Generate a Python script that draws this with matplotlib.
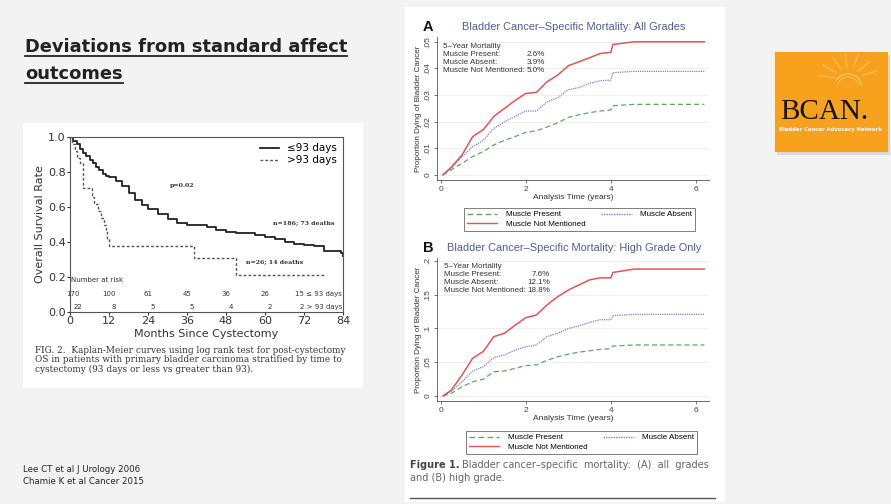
import numpy as np
import matplotlib
matplotlib.use("Agg")
from matplotlib import pyplot as plt
from matplotlib.patches import Rectangle, Arc
from matplotlib.lines import Line2D

W, H = 891, 504

# --- Lee 2006: Kaplan-Meier, overall survival (months) ---
km_early_t = [0, 1, 2, 3, 4, 5, 6, 7, 8, 9, 10, 11, 12, 14, 16, 18, 20, 22, 24, 27, 30, 33, 36,
              39, 42, 45, 48, 51, 54, 57, 60, 63, 66, 69, 72, 75, 78, 81, 83.5, 84]
km_early_s = [1.0, 0.98, 0.96, 0.93, 0.91, 0.89, 0.87, 0.85, 0.83, 0.81, 0.79, 0.78, 0.77, 0.75, 0.72,
              0.68, 0.64, 0.61, 0.59, 0.56, 0.53, 0.51, 0.50, 0.50, 0.485, 0.47, 0.46, 0.45, 0.45,
              0.44, 0.43, 0.42, 0.40, 0.39, 0.385, 0.38, 0.35, 0.35, 0.34, 0.32]
km_late_t = [0, 0.5, 1.5, 2, 3, 4, 6, 6.8, 7.5, 8.5, 9.5, 10.5, 11, 11.5, 12, 38, 51, 78.5]
km_late_s = [1.0, 0.96, 0.92, 0.88, 0.85, 0.71, 0.71, 0.66, 0.62, 0.58, 0.54, 0.50, 0.46, 0.42, 0.38,
             0.31, 0.21, 0.21]
risk_months = [1, 12, 24, 36, 48, 60]
risk_early = [170, 100, 61, 45, 36, 26]
risk_late = [22, 8, 5, 5, 4, 2]
risk_last = ["15 \u2264 93 days", "2 > 93 days"]

# --- Chamie 2015: cumulative bladder-cancer mortality (years) ---
yrs = [0.05, 0.25, 0.5, 0.75, 1.0, 1.25, 1.5, 1.75, 2.0, 2.25, 2.5, 2.75, 3.0, 3.25, 3.5, 3.75,
       4.0, 4.05, 4.55, 6.2]
a_present = [0, 0.002, 0.0044, 0.0069, 0.0088, 0.0113, 0.013, 0.0144, 0.016, 0.0166, 0.018,
             0.0196, 0.0216, 0.0226, 0.0234, 0.024, 0.0244, 0.026, 0.0265, 0.0265]
a_absent = [0, 0.0025, 0.0069, 0.0106, 0.013, 0.0175, 0.020, 0.022, 0.024, 0.024, 0.0275,
            0.029, 0.032, 0.0328, 0.0344, 0.0354, 0.0356, 0.0384, 0.0389, 0.0389]
a_notmentioned = [0, 0.003, 0.0075, 0.0144, 0.017, 0.022, 0.025, 0.028, 0.0306, 0.031, 0.035,
                  0.0375, 0.041, 0.0425, 0.044, 0.0456, 0.046, 0.049, 0.050, 0.050]
b_present = [0, 0.004, 0.0138, 0.021, 0.025, 0.036, 0.037, 0.041, 0.045, 0.046, 0.053, 0.058,
             0.062, 0.065, 0.067, 0.069, 0.070, 0.074, 0.0756, 0.0756]
b_absent = [0, 0.007, 0.021, 0.037, 0.0435, 0.057, 0.061, 0.068, 0.073, 0.0756, 0.088, 0.093,
            0.100, 0.104, 0.109, 0.113, 0.113, 0.119, 0.121, 0.121]
b_notmentioned = [0, 0.009, 0.031, 0.056, 0.066, 0.088, 0.093, 0.105, 0.116, 0.120, 0.135,
                  0.147, 0.157, 0.1645, 0.172, 0.175, 0.175, 0.183, 0.188, 0.188]
groups = ["Muscle Present", "Muscle Absent", "Muscle Not Mentioned"]
five_year_a = ["2.6%", "3.9%", "5.0%"]
five_year_b = ["7.6%", "12.1%", "18.8%"]


def rect(l, t, r, b):
    return [l / W, 1 - b / H, (r - l) / W, (b - t) / H]


def ftext(x, y, s, **kw):
    return fig.text(x / W, 1 - y / H, s, **kw)


fig = plt.figure(figsize=(W / 100, H / 100), dpi=100, facecolor="#f3f3f3")

# white panels
for l, t, r, b in [(23, 123, 363, 388), (405, 7, 725, 502)]:
    fig.add_artist(Rectangle((l / W, 1 - b / H), (r - l) / W, (b - t) / H,
                             transform=fig.transFigure, facecolor="white", edgecolor="none", zorder=0))

# slide title
title_lines = []
title_lines.append(ftext(25, 47, "Deviations from standard affect", fontsize=12.9, fontweight="bold",
                         color="#222222", va="center", family="DejaVu Sans"))
title_lines.append(ftext(25, 74, "outcomes", fontsize=12.9, fontweight="bold",
                         color="#222222", va="center", family="DejaVu Sans"))

ftext(23, 470, "Lee CT et al J Urology 2006", fontsize=6.2, color="#222222", va="center")
ftext(23, 482, "Chamie K et al Cancer 2015", fontsize=6.2, color="#222222", va="center")

# ---------- Kaplan-Meier panel ----------
ax = fig.add_axes(rect(70, 137, 343, 312))
ax.plot(km_early_t, km_early_s, drawstyle="steps-post", color="#222222", lw=1.3)
ax.plot(km_late_t, km_late_s, drawstyle="steps-post", color="#555555", lw=1.0, ls=(0, (2, 1.5)))
ax.set_xlim(0, 84)
ax.set_ylim(0, 1.0)
ax.set_xticks(range(0, 85, 12))
ax.set_yticks([0, 0.2, 0.4, 0.6, 0.8, 1.0])
ax.set_yticklabels(["0.0", "0.2", "0.4", "0.6", "0.8", "1.0"])
ax.tick_params(labelsize=8, colors="#333333", length=2, pad=1)
for sp in ax.spines.values():
    sp.set_color("#555555")
    sp.set_linewidth(0.8)
ax.set_xlabel("Months Since Cystectomy", fontsize=8, color="#333333", labelpad=2)
ax.set_ylabel("Overall Survival Rate", fontsize=8, color="#333333", labelpad=2)
ax.legend(["\u226493 days", ">93 days"], loc="upper right", frameon=False, fontsize=7.5,
          handlelength=1.8, borderaxespad=0.2, labelspacing=0.2)
serif = dict(family="DejaVu Serif", fontweight="bold", fontsize=4.5, color="#333333")
ax.text(34.6, 0.72, "p=0.02", ha="center", va="center", **serif)
ax.text(72, 0.51, "n=186; 73 deaths", ha="center", va="center", **serif)
ax.text(63, 0.29, "n=26; 14 deaths", ha="center", va="center", **serif)
ax.text(0.3, 0.185, "Number at risk", fontsize=5, color="#333333", va="center")
for m, e, l in zip(risk_months, risk_early, risk_late):
    ax.text(m, 0.105, str(e), fontsize=5, color="#333333", ha="center", va="center")
    ax.text(m + 1.5, 0.03, str(l), fontsize=5, color="#333333", ha="center", va="center")
ax.text(83.8, 0.105, risk_last[0], fontsize=5, color="#333333", ha="right", va="center")
ax.text(83.8, 0.03, risk_last[1], fontsize=5, color="#333333", ha="right", va="center")

cap = ("FIG. 2.  Kaplan-Meier curves using log rank test for post-cystectomy\n"
       "OS in patients with primary bladder carcinoma stratified by time to\n"
       "cystectomy (93 days or less vs greater than 93).")
ftext(35, 346, cap, fontsize=6.4, family="DejaVu Serif", color="#333333", va="top",
      linespacing=1.05)

# ---------- Mortality panels ----------
colors = ["#5ea85e", "#7f80d6", "#e35555"]
styles = [(0, (4, 2.5)), (0, (1, 0.8)), "-"]
title_color = "#4f5d9c"
sans = "Liberation Sans"


def mortality(axbox, series, ylim, yticks, yticklabels, letter, title, title_y, five, text_xy, leg_box):
    a = fig.add_axes(rect(*axbox))
    for s, c, st in zip(series, colors, styles):
        a.plot(yrs, s, color=c, ls=st, lw=1.1 if st == "-" else 0.9)
    a.set_xlim(-0.09, 6.31)
    a.set_ylim(*ylim)
    a.set_xticks([0, 2, 4, 6])
    a.set_yticks(yticks)
    a.set_yticklabels(yticklabels, rotation=90, va="center")
    for lab in a.get_xticklabels() + a.get_yticklabels():
        lab.set_family(sans)
    a.grid(axis="y", color="#ececec", lw=0.6)
    a.set_axisbelow(True)
    for k in ["top", "right"]:
        a.spines[k].set_visible(False)
    for k in ["left", "bottom"]:
        a.spines[k].set_color("#555555")
        a.spines[k].set_linewidth(0.6)
    a.tick_params(labelsize=6, colors="#444444", length=2.5, width=0.5, pad=1.5)
    a.set_xlabel("Analysis Time (years)", fontsize=6, family=sans, color="#333333", labelpad=1)
    a.set_ylabel("Proportion Dying of Bladder Cancer", fontsize=5.8, family=sans,
                 color="#333333", labelpad=2)
    ftext(428, title_y, letter, fontsize=10.5, fontweight="bold", family=sans, color="#111111",
          ha="center", va="center")
    ftext(574, title_y, title, fontsize=7.9, family=sans, color=title_color, ha="center", va="center")
    x0, y0, x1 = text_xy
    ftext(x0, y0, "5\u2013Year Mortality", fontsize=5.8, family=sans, color="#333333", va="center")
    for i, (g, p) in enumerate(zip(groups, five)):
        ftext(x0, y0 + 8.2 * (i + 1), g + ":", fontsize=5.8, family=sans, color="#333333", va="center")
        ftext(x1, y0 + 8.2 * (i + 1), p, fontsize=5.8, family=sans, color="#333333",
              va="center", ha="right")
    handles = [Line2D([], [], color=c, ls=st, lw=1.0) for c, st in zip(colors, styles)]
    order = [0, 2, 1]
    l, t, r, b = leg_box
    leg = fig.legend([handles[i] for i in order], [groups[i] for i in order], ncol=2,
                     loc="upper left", bbox_to_anchor=(l / W, 1 - t / H),
                     prop={"family": sans, "size": 5.8},
                     frameon=True, fancybox=False, edgecolor="#444444", handlelength=3.8,
                     columnspacing=2.0, labelspacing=0.2, borderpad=0.35, handletextpad=1.0)
    leg.get_frame().set_linewidth(0.6)
    return a


mortality((437, 37, 709, 180), [a_present, a_absent, a_notmentioned], (-0.0019, 0.0518),
          [0, 0.01, 0.02, 0.03, 0.04, 0.05], ["0", ".01", ".02", ".03", ".04", ".05"],
          "A", "Bladder Cancer\u2013Specific Mortality: All Grades", 27, five_year_a,
          (443, 46, 545), (460, 204, 692, 228))
mortality((437, 258, 709, 401), [b_present, b_absent, b_notmentioned], (-0.0074, 0.2044),
          [0, 0.05, 0.1, 0.15, 0.2], ["0", ".05", ".1", ".15", ".2"],
          "B", "Bladder Cancer\u2013Specific Mortality: High Grade Only", 248, five_year_b,
          (444, 266, 550), (462, 427, 692, 451))

ftext(410, 465, "Figure 1.", fontsize=7, fontweight="bold", color="#444444", va="center")
ftext(462, 465, "Bladder cancer\u2013specific  mortality:  (A)  all  grades", fontsize=7,
      color="#666666", va="center")
ftext(410, 478, "and (B) high grade.", fontsize=7, color="#666666", va="center")
fig.add_artist(Line2D([410 / W, 715 / W], [1 - 498 / H, 1 - 498 / H], transform=fig.transFigure,
                      color="#555555", lw=1.0))

# ---------- BCAN logo ----------
fig.add_artist(Rectangle((777 / W, 1 - 155 / H), 113 / W, 100 / H, transform=fig.transFigure,
                         facecolor="#d8d8d8", edgecolor="none", zorder=1))
fig.add_artist(Rectangle((775 / W, 1 - 152 / H), 113 / W, 100 / H, transform=fig.transFigure,
                         facecolor="#f7a11c", edgecolor="none", zorder=2))
sun = fig.add_axes(rect(775, 52, 888, 152), zorder=3)
sun.set_xlim(775, 888)
sun.set_ylim(152, 52)
sun.axis("off")
sun.add_patch(Arc((848, 85), 26, 22, theta1=200, theta2=360, color="#fbc36a", lw=1.0))
sun.add_patch(Arc((848, 85), 20, 16, theta1=190, theta2=350, color="#fbc36a", lw=0.7))
for ang in np.deg2rad([20, 45, 70, 95, 120, 145, 170]):
    sun.plot([848 + 15 * np.cos(ang), 848 + 30 * np.cos(ang)],
             [80 - 13 * np.sin(ang), 80 - 26 * np.sin(ang)], color="#fbc36a", lw=0.8)
ftext(824, 112, "BCAN.", fontsize=21, family="Liberation Serif", color="#111111",
      ha="center", va="center", zorder=4)
ftext(830, 130, "Bladder Cancer Advocacy Network", fontsize=3.8, color="white",
      fontweight="bold", ha="center", va="center", zorder=4)

# underline the slide title
fig.canvas.draw()
renderer = fig.canvas.get_renderer()
inv = fig.transFigure.inverted()
for t in title_lines:
    bb = t.get_window_extent(renderer).transformed(inv)
    y = bb.y0 + 0.5 / H
    fig.add_artist(Line2D([bb.x0, bb.x1], [y, y], transform=fig.transFigure, color="#222222", lw=1.3))

fig.savefig("out.png", dpi=100, facecolor=fig.get_facecolor())
